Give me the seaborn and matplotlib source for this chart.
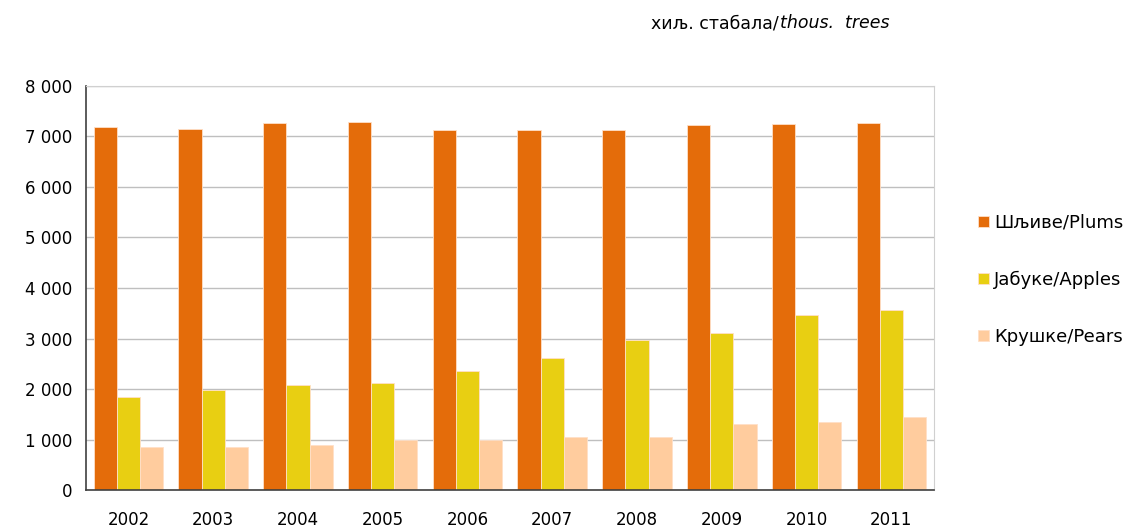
import pandas as pd
import matplotlib
matplotlib.use('Agg')
import matplotlib.pyplot as plt
import seaborn as sns
from matplotlib.ticker import FuncFormatter, FixedLocator

# Values (thousand trees)
years = ['2002', '2003', '2004', '2005', '2006', '2007', '2008', '2009', '2010', '2011']
plums = [7180, 7140, 7270, 7290, 7130, 7130, 7130, 7220, 7240, 7270]
apples = [1840, 1985, 2075, 2120, 2355, 2615, 2980, 3110, 3460, 3565]
pears = [850, 852, 890, 990, 995, 1055, 1055, 1317, 1350, 1443]

series = ['Шљиве/Plums', 'Јабуке/Apples', 'Крушке/Pears']
colors = ['#E46C0A', '#E8CF12', '#FFCC9E']

df = pd.DataFrame({'year': years * 3,
                   'value': plums + apples + pears,
                   'series': [s for s in series for _ in years]})

sns.set_style('white')
plt.rcParams['font.family'] = ['DejaVu Sans']
plt.rcParams['text.color'] = 'black'

fig = plt.figure(figsize=(11.36, 5.29), dpi=100)
ax = fig.add_axes([86 / 1136, 1 - 490.3 / 529, (933.7 - 86) / 1136, (490.3 - 85.7) / 529])

sns.barplot(data=df, x='year', y='value', hue='series', palette=colors, saturation=1,
            width=0.82, edgecolor='#FFE0C8', linewidth=0.6, ax=ax, legend=True)

ax.set_ylim(0, 8000)
ax.set_xlim(-0.5, len(years) - 0.5)
ax.set_yticks(range(0, 8001, 1000))
ax.yaxis.set_major_formatter(FuncFormatter(lambda v, p: f'{int(v):,}'.replace(',', ' ')))
ax.grid(axis='y', color='#BFBFBF', linewidth=1)
ax.set_axisbelow(True)
ax.set_xlabel('')
ax.set_ylabel('')

# ticks between categories on x axis
ax.xaxis.set_minor_locator(FixedLocator([i - 0.5 for i in range(len(years) + 1)]))
ax.tick_params(axis='x', which='major', length=0, pad=15, labelsize=12, labelcolor='black')
ax.tick_params(axis='x', which='minor', length=6, width=1, color='#404040', direction='out')
ax.tick_params(axis='y', which='major', length=5, width=1, color='#404040', direction='out',
               pad=5, labelsize=12, labelcolor='black')

for side in ['left', 'bottom']:
    ax.spines[side].set_color('#404040')
    ax.spines[side].set_linewidth(1.2)
ax.spines['right'].set_color('#D0D0D0')
ax.spines['top'].set_color('#D0D0D0')

ax.get_legend().remove()
handles, labels = ax.get_legend_handles_labels()
fig.legend(handles, labels, loc='upper left', bbox_to_anchor=(0.861, 0.596),
           frameon=False, fontsize=13, handlelength=0.6, handleheight=0.6,
           handletextpad=0.3, labelspacing=2.15, borderpad=0, borderaxespad=0,
           labelcolor='black')

fig.text(779 / 1136, 1 - 23 / 529, 'хиљ. стабала/', ha='right', va='center', fontsize=12.5)
fig.text(780 / 1136, 1 - 23 / 529, 'thous.  trees', ha='left', va='center',
         fontsize=12.5, style='italic')

fig.savefig('out.png', dpi=100)
